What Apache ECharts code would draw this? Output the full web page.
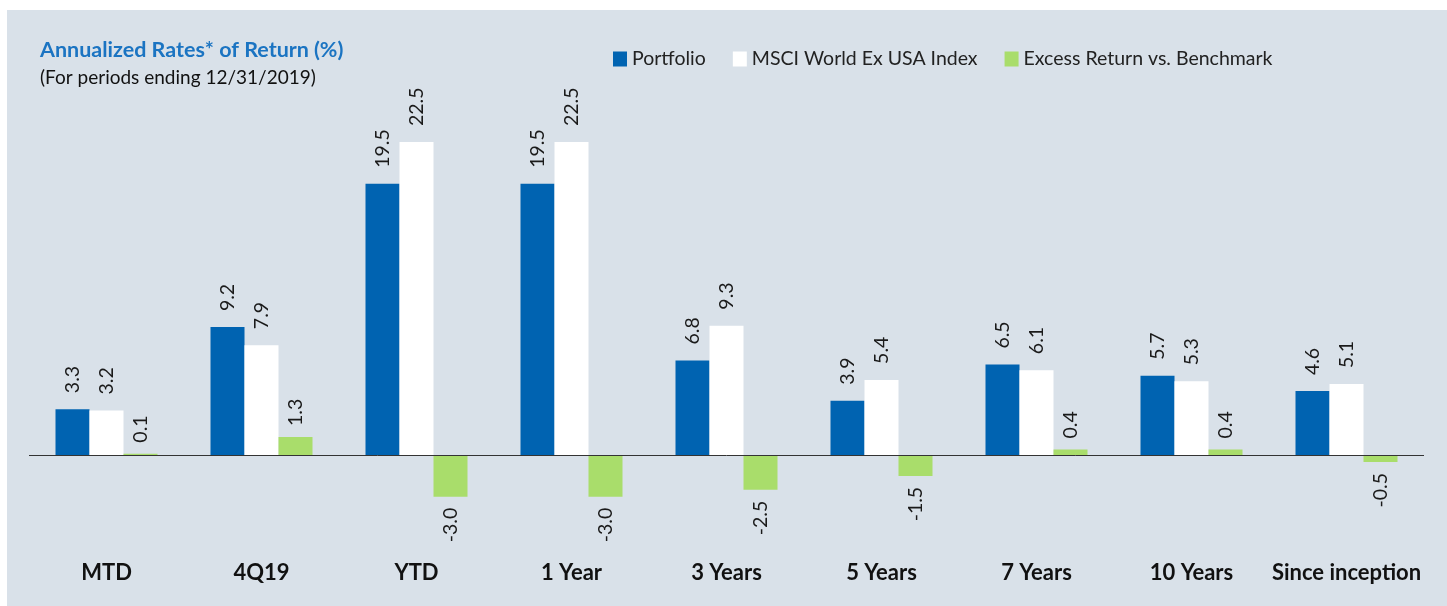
<!DOCTYPE html>
<html>
<head>
<meta charset="utf-8">
<script src="https://cdn.jsdelivr.net/npm/echarts@6/dist/echarts.min.js"></script>
<style>
  html, body { margin: 0; padding: 0; background: #ffffff; }
  #chart { width: 1447px; height: 606px; }
</style>
</head>
<body>
<div id="chart"></div>
<script>
  // periods
  var categories = ['MTD', '4Q19', 'YTD', '1 Year', '3 Years', '5 Years', '7 Years', '10 Years', 'Since inception'];
  // returns (%)
  var portfolio = [3.3, 9.2, 19.5, 19.5, 6.8, 3.9, 6.5, 5.7, 4.6];
  var msciIndex = [3.2, 7.9, 22.5, 22.5, 9.3, 5.4, 6.1, 5.3, 5.1];
  var excess = [0.1, 1.3, -3.0, -3.0, -2.5, -1.5, 0.4, 0.4, -0.5];

  var FONT = 'Lato';

  function toItems(arr) {
    return arr.map(function (v) {
      return { value: v, label: { align: v < 0 ? 'right' : 'left' } };
    });
  }

  function barLabel(dist) {
    return {
      show: true,
      position: 'outside',
      rotate: 90,
      verticalAlign: 'middle',
      distance: dist,
      fontFamily: FONT,
      fontSize: 19.5,
      color: '#1a1a1a',
      formatter: function (p) { return p.value.toFixed(1); }
    };
  }

  var chart = echarts.init(document.getElementById('chart'));

  chart.setOption({
    animation: false,
    graphic: [{
      type: 'rect',
      left: 7, top: 10,
      shape: { width: 1440, height: 596 },
      style: { fill: '#d9e1e9' },
      z: -10
    }],
    title: {
      left: 35, top: 34,
      text: '{b|Annualized Rates* of Return} {r|(%)}',
      textStyle: {
        rich: {
          b: { fontFamily: FONT, fontSize: 21.5, fontWeight: 'bold', color: '#1b74c2' },
          r: { fontFamily: FONT, fontSize: 21.5, color: '#1b74c2' }
        }
      },
      subtext: '(For periods ending 12/31/2019)',
      subtextStyle: { fontFamily: FONT, fontSize: 19, color: '#111111' },
      itemGap: 7
    },
    legend: {
      left: 608, top: 44,
      icon: 'rect',
      itemWidth: 14, itemHeight: 15,
      itemGap: 27,
      textStyle: { fontFamily: FONT, fontSize: 19.5, color: '#222222' },
      data: ['Portfolio', 'MSCI World Ex USA Index', 'Excess Return vs. Benchmark']
    },
    grid: { left: 29, right: 23, top: 121.2, bottom: 53.6 },
    xAxis: {
      type: 'category',
      data: categories,
      axisLine: { show: false },
      axisTick: { show: false },
      axisLabel: {
        interval: 0,
        margin: 10,
        fontFamily: FONT,
        fontSize: 22,
        fontWeight: 'bold',
        color: '#111111'
      }
    },
    yAxis: {
      type: 'value',
      min: -7, max: 24,
      show: false,
      splitLine: { show: false }
    },
    series: [{
      name: 'Portfolio',
      type: 'bar',
      barWidth: 34,
      barGap: '0%',
      itemStyle: { color: '#0063b1' },
      label: barLabel(16),
      data: toItems(portfolio)
    }, {
      name: 'MSCI World Ex USA Index',
      type: 'bar',
      barWidth: 34,
      barGap: '0%',
      itemStyle: { color: '#ffffff' },
      label: barLabel(16),
      data: toItems(msciIndex)
    }, {
      name: 'Excess Return vs. Benchmark',
      type: 'bar',
      barWidth: 34,
      barGap: '0%',
      itemStyle: { color: '#a9dd6b' },
      label: barLabel(11),
      data: toItems(excess),
      markLine: {
        silent: true,
        symbol: 'none',
        label: { show: false },
        lineStyle: { color: '#333333', width: 1, type: 'solid' },
        data: [{ yAxis: 0 }]
      }
    }]
  });
</script>
</body>
</html>
